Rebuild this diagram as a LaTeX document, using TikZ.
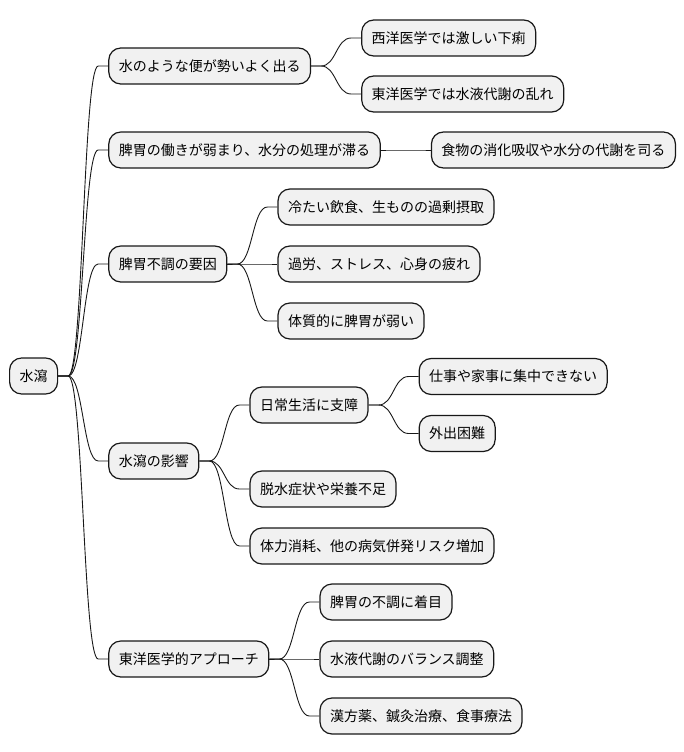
\documentclass[tikz,border=0pt]{standalone}
\usepackage{fontspec}
\setmainfont{Noto Sans CJK JP}
\usetikzlibrary{positioning,calc}
\definecolor{boxfill}{HTML}{F1F1F1}
\definecolor{boxline}{HTML}{181818}

\newcommand{\branch}[2]{%
    \path (#1.east) ++(10pt,0) coordinate (s) (#2.west) ++(-10pt,0) coordinate (t);
    \coordinate (m) at ($(s)!.5!(t)$);
    \draw[link] (#1.east) -- (s) .. controls (m |- s) and (m |- t) .. (t) -- (#2.west);}

\begin{document}
\begin{tikzpicture}[x=1pt,y=-1pt,node distance=50pt,
    topic/.style={rectangle,draw=boxline,fill=boxfill,line width=1.2pt,rounded corners=12pt,minimum height=36pt,inner xsep=10pt,font=\fontsize{14pt}{17pt}\selectfont},
    link/.style={draw=boxline,line width=0.9pt}]
    \useasboundingbox (0,0) rectangle (684,752);

    \node[topic,anchor=west] (root) at (9,376) {水瀉};

    \node[topic,right=of root,yshift=310pt] (stool) {水のような便が勢いよく出る};
    \node[topic,right=of stool,yshift=28pt] (western) {西洋医学では激しい下痢};
    \node[topic,right=of stool,yshift=-28pt] (eastern) {東洋医学では水液代謝の乱れ};

    \node[topic,right=of root,yshift=226pt] (spleen) {脾胃の働きが弱まり、水分の処理が滞る};
    \node[topic,right=of spleen] (digest) {食物の消化吸収や水分の代謝を司る};

    \node[topic,right=of root,yshift=112pt] (cause) {脾胃不調の要因};
    \node[topic,right=of cause,yshift=57pt] (cold) {冷たい飲食、生ものの過剰摂取};
    \node[topic,right=of cause] (fatigue) {過労、ストレス、心身の疲れ};
    \node[topic,right=of cause,yshift=-57pt] (constitution) {体質的に脾胃が弱い};

    \node[topic,right=of root,yshift=-85pt] (impact) {水瀉の影響};
    \node[topic,right=of impact,yshift=56pt] (daily) {日常生活に支障};
    \node[topic,right=of daily,yshift=28.5pt] (work) {仕事や家事に集中できない};
    \node[topic,right=of daily,yshift=-28.5pt] (outing) {外出困難};
    \node[topic,right=of impact,yshift=-28pt] (dehydration) {脱水症状や栄養不足};
    \node[topic,right=of impact,yshift=-85pt] (stamina) {体力消耗、他の病気併発リスク増加};

    \node[topic,right=of root,yshift=-283pt] (approach) {東洋医学的アプローチ};
    \node[topic,right=of approach,yshift=57pt] (focus) {脾胃の不調に着目};
    \node[topic,right=of approach] (balance) {水液代謝のバランス調整};
    \node[topic,right=of approach,yshift=-57pt] (therapy) {漢方薬、鍼灸治療、食事療法};

    \branch{root}{stool}
    \branch{root}{spleen}
    \branch{root}{cause}
    \branch{root}{impact}
    \branch{root}{approach}
    \branch{stool}{western}
    \branch{stool}{eastern}
    \branch{spleen}{digest}
    \branch{cause}{cold}
    \branch{cause}{fatigue}
    \branch{cause}{constitution}
    \branch{impact}{daily}
    \branch{impact}{dehydration}
    \branch{impact}{stamina}
    \branch{daily}{work}
    \branch{daily}{outing}
    \branch{approach}{focus}
    \branch{approach}{balance}
    \branch{approach}{therapy}
\end{tikzpicture}
\end{document}
